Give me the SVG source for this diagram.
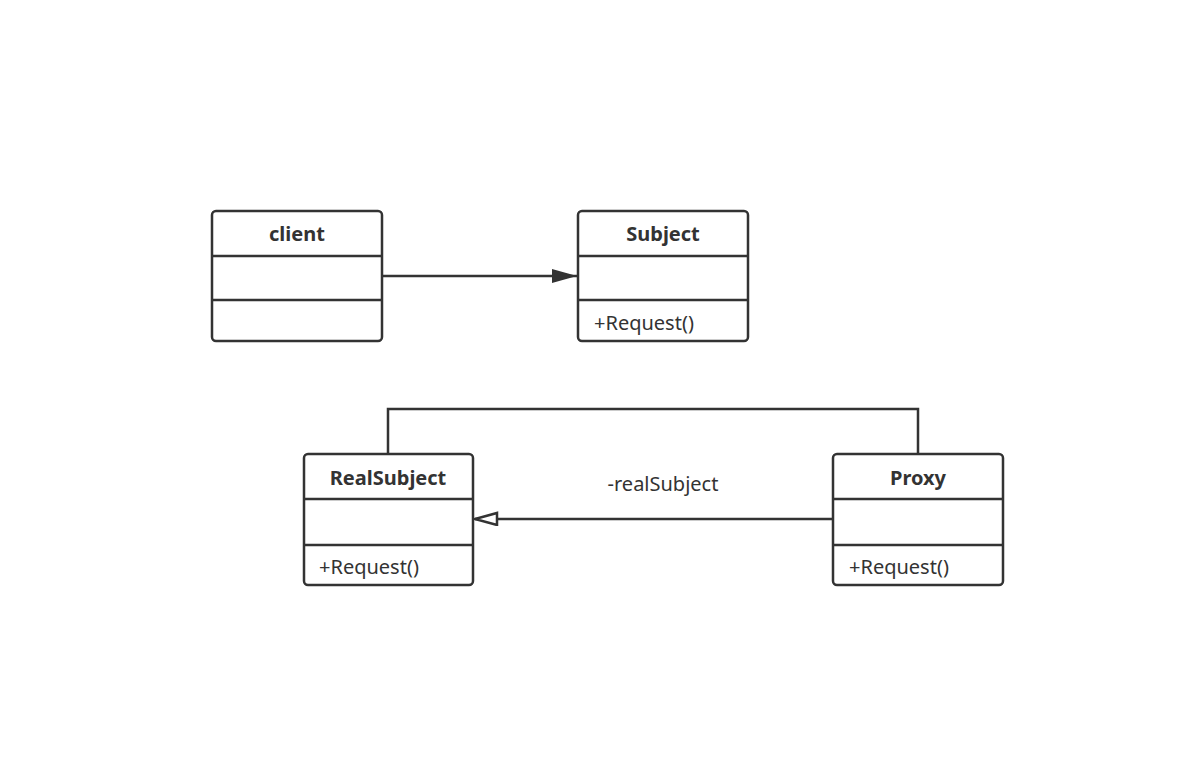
<svg xmlns="http://www.w3.org/2000/svg" width="1198" height="760" viewBox="0 0 1198 760">
<style>
.box{fill:#fff;stroke:#333;stroke-width:2.5}
.div{stroke:#333;stroke-width:2.5}
.title{font-family:"Noto Sans","Open Sans",sans-serif;font-size:20px;font-weight:bold;fill:#333;text-anchor:middle}
.meth{font-family:"Noto Sans","Open Sans",sans-serif;font-size:20px;fill:#333}
.conn{fill:none;stroke:#333;stroke-width:2.5}
</style>
<defs>
<marker id="filled" markerWidth="26" markerHeight="16" refX="25" refY="8" orient="auto" markerUnits="userSpaceOnUse">
<path d="M0,1 L25,8 L0,15 Z" fill="#333"/>
</marker>
<marker id="hollow" markerWidth="26" markerHeight="16" refX="24" refY="7" orient="auto" markerUnits="userSpaceOnUse">
<path d="M2,1 L24,7 L2,13 Z" fill="#fff" stroke="#333" stroke-width="2.5"/>
</marker>
</defs>
<rect width="1198" height="760" fill="#fff"/>
<g id="connectors">
<path class="conn" d="M382,276 L577,276" marker-end="url(#filled)"/>
<path class="conn" d="M388,454 L388,409 L918,409 L918,454"/>
<path class="conn" d="M833,519 L475,519" marker-end="url(#hollow)"/>
<text class="meth" x="663" y="491" text-anchor="middle">-realSubject</text>
</g>
<g id="client">
<rect class="box" x="212" y="211" width="170" height="130" rx="4"/>
<line class="div" x1="212" y1="256" x2="382" y2="256"/>
<line class="div" x1="212" y1="300" x2="382" y2="300"/>
<text class="title" x="297" y="241">client</text>
</g>
<g id="subject">
<rect class="box" x="578" y="211" width="170" height="130" rx="4"/>
<line class="div" x1="578" y1="256" x2="748" y2="256"/>
<line class="div" x1="578" y1="300" x2="748" y2="300"/>
<text class="title" x="663" y="241">Subject</text>
<text class="meth" x="594" y="330">+Request()</text>
</g>
<g id="realsubject">
<rect class="box" x="304" y="454" width="169" height="131" rx="4"/>
<line class="div" x1="304" y1="499" x2="473" y2="499"/>
<line class="div" x1="304" y1="545" x2="473" y2="545"/>
<text class="title" x="388" y="485">RealSubject</text>
<text class="meth" x="319" y="574">+Request()</text>
</g>
<g id="proxy">
<rect class="box" x="833" y="454" width="170" height="131" rx="4"/>
<line class="div" x1="833" y1="499" x2="1003" y2="499"/>
<line class="div" x1="833" y1="545" x2="1003" y2="545"/>
<text class="title" x="918" y="485">Proxy</text>
<text class="meth" x="849" y="574">+Request()</text>
</g>
</svg>
